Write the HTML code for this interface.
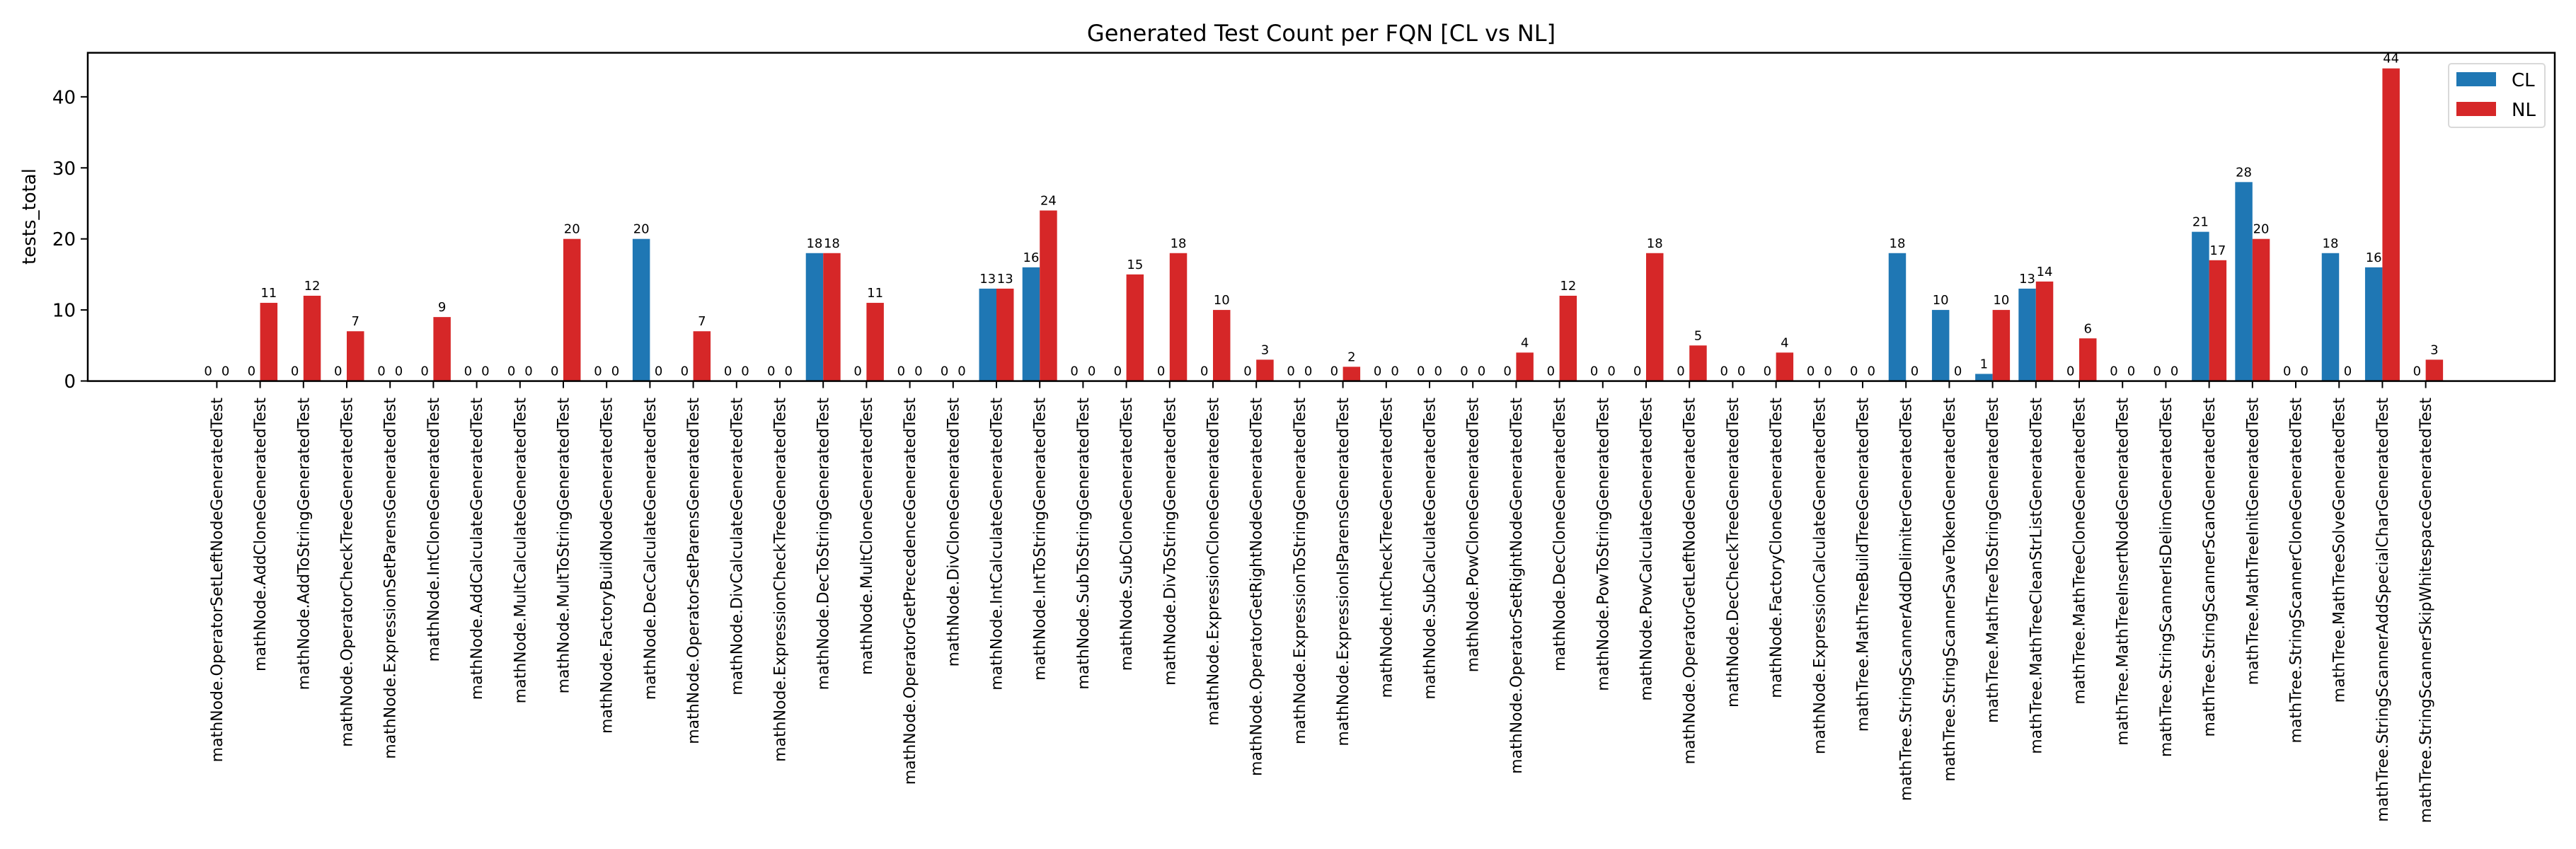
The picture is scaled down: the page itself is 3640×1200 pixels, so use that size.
<!DOCTYPE html>
<html><head><meta charset="utf-8"><style>
html,body{margin:0;padding:0;background:#fff}
svg{display:block;font-family:"DejaVu Sans","Liberation Sans",sans-serif}
</style></head><body>
<svg id="chart" width="3640" height="1200" viewBox="0 0 3640 1200" xmlns="http://www.w3.org/2000/svg">
<rect width="3640" height="1200" fill="#fff"/>
<text x="1867" y="58" font-size="32" text-anchor="middle">Generated Test Count per FQN [CL vs NL]</text>
<text transform="translate(50,306) rotate(-90)" font-size="26" text-anchor="middle">tests_total</text>
<g id="bars"></g>
<g id="labels"></g>
<g id="yaxis"></g>
<g id="xaxis"></g>
<rect x="124" y="74.6" width="3486" height="464" fill="none" stroke="#000" stroke-width="2.5"/>
<g>
<rect x="3460" y="90" width="136" height="90" rx="4" fill="#fff" stroke="#d9d9d9" stroke-width="2"/>
<rect x="3471" y="102" width="56" height="20" fill="#1f77b4"/>
<text x="3549" y="122" font-size="26">CL</text>
<rect x="3471" y="144" width="56" height="20" fill="#d62728"/>
<text x="3549" y="164" font-size="26">NL</text>
</g>
</svg>
<script>
const categories = ["mathNode.OperatorSetLeftNodeGeneratedTest","mathNode.AddCloneGeneratedTest","mathNode.AddToStringGeneratedTest","mathNode.OperatorCheckTreeGeneratedTest","mathNode.ExpressionSetParensGeneratedTest","mathNode.IntCloneGeneratedTest","mathNode.AddCalculateGeneratedTest","mathNode.MultCalculateGeneratedTest","mathNode.MultToStringGeneratedTest","mathNode.FactoryBuildNodeGeneratedTest","mathNode.DecCalculateGeneratedTest","mathNode.OperatorSetParensGeneratedTest","mathNode.DivCalculateGeneratedTest","mathNode.ExpressionCheckTreeGeneratedTest","mathNode.DecToStringGeneratedTest","mathNode.MultCloneGeneratedTest","mathNode.OperatorGetPrecedenceGeneratedTest","mathNode.DivCloneGeneratedTest","mathNode.IntCalculateGeneratedTest","mathNode.IntToStringGeneratedTest","mathNode.SubToStringGeneratedTest","mathNode.SubCloneGeneratedTest","mathNode.DivToStringGeneratedTest","mathNode.ExpressionCloneGeneratedTest","mathNode.OperatorGetRightNodeGeneratedTest","mathNode.ExpressionToStringGeneratedTest","mathNode.ExpressionIsParensGeneratedTest","mathNode.IntCheckTreeGeneratedTest","mathNode.SubCalculateGeneratedTest","mathNode.PowCloneGeneratedTest","mathNode.OperatorSetRightNodeGeneratedTest","mathNode.DecCloneGeneratedTest","mathNode.PowToStringGeneratedTest","mathNode.PowCalculateGeneratedTest","mathNode.OperatorGetLeftNodeGeneratedTest","mathNode.DecCheckTreeGeneratedTest","mathNode.FactoryCloneGeneratedTest","mathNode.ExpressionCalculateGeneratedTest","mathTree.MathTreeBuildTreeGeneratedTest","mathTree.StringScannerAddDelimiterGeneratedTest","mathTree.StringScannerSaveTokenGeneratedTest","mathTree.MathTreeToStringGeneratedTest","mathTree.MathTreeCleanStrListGeneratedTest","mathTree.MathTreeCloneGeneratedTest","mathTree.MathTreeInsertNodeGeneratedTest","mathTree.StringScannerIsDelimGeneratedTest","mathTree.StringScannerScanGeneratedTest","mathTree.MathTreeInitGeneratedTest","mathTree.StringScannerCloneGeneratedTest","mathTree.MathTreeSolveGeneratedTest","mathTree.StringScannerAddSpecialCharGeneratedTest","mathTree.StringScannerSkipWhitespaceGeneratedTest"];
const clValues = [0,0,0,0,0,0,0,0,0,0,20,0,0,0,18,0,0,0,13,16,0,0,0,0,0,0,0,0,0,0,0,0,0,0,0,0,0,0,0,18,10,1,13,0,0,0,21,28,0,18,16,0];
const nlValues = [0,11,12,7,0,9,0,0,20,0,0,7,0,0,18,11,0,0,13,24,0,15,18,10,3,0,2,0,0,0,4,12,0,18,5,0,4,0,0,0,0,10,14,6,0,0,17,20,0,0,44,3];
const yTicks = [0,10,20,30,40];

const NS="http://www.w3.org/2000/svg";
const L=124,R=3610,T=74.6,B=538.5;
const xMin=-2.98,xMax=categories.length-1+2.98,yMax=46.2;
function xS(v){return L+(v-xMin)/(xMax-xMin)*(R-L);}
function yS(v){return B-v/yMax*(B-T);}
function mk(tag,attrs,parent){const e=document.createElementNS(NS,tag);for(const k in attrs)e.setAttribute(k,attrs[k]);parent.appendChild(e);return e;}
const gB=document.getElementById('bars'),gL=document.getElementById('labels'),gY=document.getElementById('yaxis'),gX=document.getElementById('xaxis');
const bw=0.4;
function drawSeries(vals,off,color,nm){
  vals.forEach((v,i)=>{
    const x0=xS(i+off-bw/2),x1=xS(i+off+bw/2);
    const r=mk('rect',{x:x0,y:yS(v),width:x1-x0,height:B-yS(v),fill:color},gB);
    
    
    const t=mk('text',{x:(x0+x1)/2,y:yS(v)-8,'font-size':18,'text-anchor':'middle'},gL);
    t.textContent=String(v);
    
    
  });
}
drawSeries(clValues,-0.2,'#1f77b4','cl');
drawSeries(nlValues,0.2,'#d62728','nl');
yTicks.forEach(v=>{
  mk('line',{x1:L-10,x2:L,y1:yS(v),y2:yS(v),stroke:'#000','stroke-width':2},gY);
  const t=mk('text',{x:L-17,y:yS(v)+9.5,'font-size':26,'text-anchor':'end'},gY);
  t.textContent=String(v);
  
  
});
categories.forEach((c,i)=>{
  const x=xS(i);
  mk('line',{x1:x,x2:x,y1:B,y2:B+10,stroke:'#000','stroke-width':2},gX);
  const t=mk('text',{transform:'translate('+(x+7.5)+',562) rotate(-90)','font-size':22,'text-anchor':'end'},gX);
  t.textContent=c;
  
  
});
</script>
</body></html>
